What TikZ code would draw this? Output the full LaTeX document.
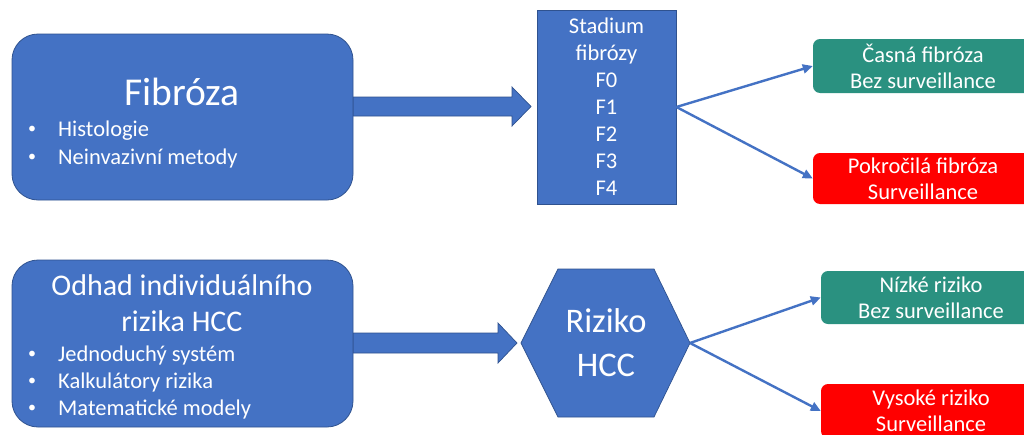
\documentclass[tikz,border=0pt]{standalone}
\usepackage{fontspec}
\setmainfont{Carlito}
\usetikzlibrary{arrows.meta,calc}
\definecolor{oblue}{HTML}{4472C4}
\definecolor{oblueD}{HTML}{2F528F}
\definecolor{ogreen}{RGB}{42,145,128}
\definecolor{ored}{HTML}{FF0000}
\begin{document}
\begin{tikzpicture}[x=1pt,y=-1pt,
  bigbox/.style={draw=oblueD, line width=0.8pt, fill=oblue, rounded corners=26pt, inner sep=0pt},
  stadbox/.style={draw=oblueD, line width=0.8pt, fill=oblue, inner sep=0pt, minimum width=139pt, minimum height=194pt, text=white, align=center, font=\fontsize{22.5}{27}\selectfont},
  resbox/.style={fill=#1, rounded corners=7pt, inner sep=0pt, minimum width=220pt, text=white, align=center, font=\fontsize{22.5}{26}\selectfont},
  blockarrow/.style={draw=oblueD, line width=0.7pt, fill=oblue},
  conn/.style={draw=oblue, line width=2.4pt, -{Triangle[length=10pt,width=9pt]}},
  title/.style={text=white, anchor=base, inner sep=0pt},
  bul/.style={text=white, anchor=base west, inner sep=0pt, font=\fontsize{22.5}{27}\selectfont},
  dot/.style={text=white, anchor=base, inner sep=0pt, font=\fontsize{16}{20}\selectfont},
]
\clip (0,0) rectangle (1024,434);
\fill[white] (0,0) rectangle (1024,434);

% block arrows
\draw[blockarrow] (353,97) -- (512,97) -- (512,87) -- (531,106.5) -- (512,126) -- (512,116) -- (353,116) -- cycle;
\draw[blockarrow] (353,333) -- (498,333) -- (498,323) -- (517,343) -- (498,363) -- (498,353) -- (353,353) -- cycle;

% Fibroza box
\node[bigbox, minimum width=341pt, minimum height=166pt] (fib) at (182.5,117) {};
\node[title, font=\fontsize{39.5}{44}\selectfont] (fibt) at (182,105) {Fibróza};
\node[dot] (b1d) at (32,133) {•};
\node[bul] (b1) at (58,136) {Histologie};
\node[dot] (b2d) at (32,161) {•};
\node[bul] (b2) at (58,164) {Neinvazivní metody};

% Odhad box
\node[bigbox, minimum width=341pt, minimum height=167pt] (odh) at (182.5,343.5) {};
\node[title, font=\fontsize{30}{36}\selectfont] (odt1) at (182,295) {Odhad individuálního};
\node[title, font=\fontsize{30}{36}\selectfont] (odt2) at (182,331) {rizika HCC};
\node[dot] (c1d) at (32,358) {•};
\node[bul] (c1) at (58,361) {Jednoduchý systém};
\node[dot] (c2d) at (32,385) {•};
\node[bul] (c2) at (58,388) {Kalkulátory rizika};
\node[dot] (c3d) at (32,412) {•};
\node[bul] (c3) at (58,415) {Matematické modely};

% Stadium box
\node[stadbox] (stad) at (606.5,107) {Stadium\\fibrózy\\F0\\F1\\F2\\F3\\F4};

% Hexagon
\draw[draw=oblueD, line width=0.7pt, fill=oblue] (521,343) -- (558,269) -- (654,269) -- (690,343) -- (654,417) -- (558,417) -- cycle;
\coordinate (hexR) at (690,343);
\node[text=white, align=center, font=\fontsize{34.5}{44}\selectfont] (hex) at (606,343) {Riziko\\HCC};

% result boxes
\node[resbox=ogreen, minimum height=54pt] (g1) at (923,66) {Časná fibróza\\Bez surveillance};
\node[resbox=ored, minimum height=51pt] (r1) at (923,178.5) {Pokročilá fibróza\\Surveillance};
\node[resbox=ogreen, minimum height=53pt] (g2) at (931,297.5) {Nízké riziko\\Bez surveillance};
\node[resbox=ored, minimum height=54pt] (r2) at (931,411) {Vysoké riziko\\Surveillance};

% connectors
\draw[conn] (stad.east) -- (g1.west);
\draw[conn] (stad.east) -- (r1.west);
\draw[conn] (hexR) -- (g2.west);
\draw[conn] (hexR) -- (r2.west);
\end{tikzpicture}
\end{document}
